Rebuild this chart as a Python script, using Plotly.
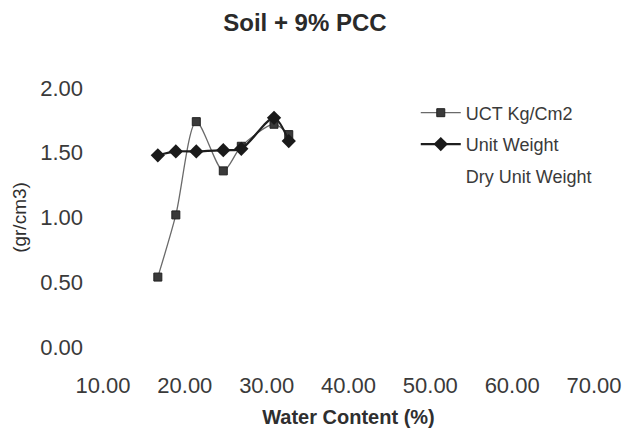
import plotly.graph_objects as go

# Water content (%) at each test point
water_content = [16.7, 18.9, 21.4, 24.7, 26.9, 30.9, 32.7]
# Unconfined compression (kg/cm2)
uct = [0.54, 1.02, 1.74, 1.36, 1.55, 1.72, 1.64]
# Unit weight (gr/cm3)
unit_weight = [1.48, 1.51, 1.51, 1.52, 1.53, 1.77, 1.59]
# Dry unit weight series (no points recorded)
dry_unit_weight = []

x_ticks = [10, 20, 30, 40, 50, 60, 70]
y_ticks = [0, 0.5, 1.0, 1.5, 2.0]

FONT = "Liberation Sans, Arial, sans-serif"
TXT = "#3a3a3a"

fig = go.Figure()
fig.add_trace(go.Scatter(
    x=water_content, y=uct, name="UCT Kg/Cm2", legendgroup="a",
    mode="lines+markers",
    line=dict(color="#6a6a6a", width=1.3, shape="spline", smoothing=0.8),
    marker=dict(symbol="square", size=8, color="#3a3a3a",
                line=dict(color="#222222", width=1)),
))
fig.add_trace(go.Scatter(
    x=water_content, y=unit_weight, name="Unit Weight", legendgroup="b",
    mode="lines+markers",
    line=dict(color="#1e1e1e", width=2.2, shape="spline", smoothing=0.8),
    marker=dict(symbol="diamond", size=11, color="#1a1a1a"),
))
fig.add_trace(go.Scatter(
    x=[None] if not dry_unit_weight else water_content,
    y=[None] if not dry_unit_weight else dry_unit_weight,
    name="Dry Unit Weight", legendgroup="c", mode="lines",
    line=dict(color="rgba(0,0,0,0)", width=1),
))

fig.update_layout(
    width=634, height=437,
    paper_bgcolor="white", plot_bgcolor="white",
    margin=dict(l=103, r=29, t=88, b=90),
    font=dict(family=FONT, color=TXT, size=16),
    title=dict(text="<b>Soil + 9% PCC</b>", x=0.481, xref="container",
               xanchor="center", y=0.949, yanchor="middle",
               font=dict(family=FONT, size=24, color="#2a2a2a")),
    xaxis=dict(range=[10, 70], tickvals=x_ticks,
               tickformat=".2f", showgrid=False, zeroline=False,
               showline=False, ticks="", ticklabelstandoff=23,
               tickfont=dict(size=22, color=TXT),
               title=dict(text="<b>Water Content (%)</b>", standoff=12,
                          font=dict(size=20, color="#2f2f2f"))),
    yaxis=dict(range=[0, 2.0], tickvals=y_ticks, tickformat=".2f",
               showgrid=False, zeroline=False, showline=False, ticks="",
               ticklabelstandoff=19,
               tickfont=dict(size=22, color=TXT),
               title=dict(text="(gr/cm3)", standoff=8,
                          font=dict(size=19, color="#2f2f2f"))),
    legend=dict(x=0.637, y=0.975, xanchor="left", yanchor="top",
                bgcolor="rgba(0,0,0,0)", font=dict(size=18, color=TXT),
                itemwidth=40, tracegroupgap=5),
    showlegend=True,
)

fig.write_html("out.html")
